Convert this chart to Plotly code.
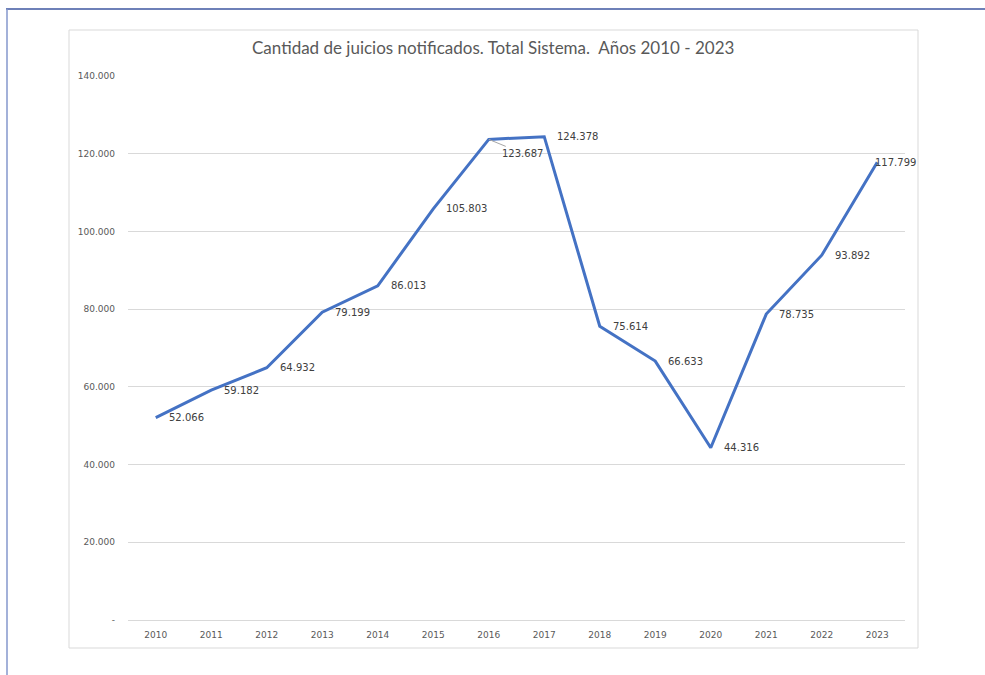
import plotly.graph_objects as go

years = ["2010", "2011", "2012", "2013", "2014", "2015", "2016",
         "2017", "2018", "2019", "2020", "2021", "2022", "2023"]
values = [52066, 59182, 64932, 79199, 86013, 105803, 123687,
          124378, 75614, 66633, 44316, 78735, 93892, 117799]
labels = ["52.066", "59.182", "64.932", "79.199", "86.013", "105.803", "123.687",
          "124.378", "75.614", "66.633", "44.316", "78.735", "93.892", "117.799"]
ytick_vals = [0, 20000, 40000, 60000, 80000, 100000, 120000, 140000]
ytick_text = ["-", "20.000", "40.000", "60.000", "80.000", "100.000", "120.000", "140.000"]
title = "Cantidad de juicios notificados. Total Sistema.  Años 2010 - 2023"

W, H = 985, 675
L, R, T, B = 128, 80, 76, 55
pw, ph = W - L - R, H - T - B

def px(x):
    return (x - L) / pw

def py(y):
    return (H - B - y) / ph

fig = go.Figure()
fig.add_trace(go.Scatter(
    x=years, y=values, mode="lines",
    line=dict(color="#4472C4", width=3),
    hoverinfo="skip", showlegend=False,
))

lab_font = dict(family="DejaVu Sans", size=10, color="#404040")
annotations = []
for i, (yr, v, lab) in enumerate(zip(years, values, labels)):
    if yr == "2016":
        annotations.append(dict(
            x=i, y=v, text=lab, xref="x", yref="y",
            showarrow=True, arrowhead=0, arrowwidth=1, arrowcolor="#A6A6A6",
            ax=34, ay=14, xanchor="center", yanchor="middle",
            font=lab_font,
        ))
    elif yr == "2023":
        annotations.append(dict(
            x=i, y=v, text=lab, xref="x", yref="y", showarrow=False,
            xanchor="left", yanchor="middle", xshift=-4, font=lab_font,
        ))
    else:
        annotations.append(dict(
            x=i, y=v, text=lab, xref="x", yref="y", showarrow=False,
            xanchor="left", yanchor="middle", xshift=11, font=lab_font,
        ))

annotations.append(dict(
    x=px(493), y=py(48), xref="paper", yref="paper", text=title,
    showarrow=False, xanchor="center", yanchor="middle",
    font=dict(family="Lato", size=17, color="#595959"),
))

shapes = [
    dict(type="rect", xref="paper", yref="paper",
         x0=px(69), x1=px(918), y0=py(30), y1=py(648),
         line=dict(color="#D9D9D9", width=1), layer="below"),
    dict(type="line", xref="paper", yref="paper",
         x0=px(6), x1=px(985), y0=py(9), y1=py(9),
         line=dict(color="#3E56A0", width=1.5)),
    dict(type="line", xref="paper", yref="paper",
         x0=px(7), x1=px(7), y0=py(9), y1=py(675),
         line=dict(color="#8497CC", width=1.5)),
]

fig.update_layout(
    width=W, height=H,
    margin=dict(l=L, r=R, t=T, b=B),
    paper_bgcolor="white", plot_bgcolor="white",
    annotations=annotations, shapes=shapes,
    showlegend=False,
)
fig.update_xaxes(
    type="category", range=[-0.5, 13.5],
    showgrid=False, showline=True, linecolor="#D9D9D9", linewidth=1,
    ticks="", ticklabelstandoff=6,
    tickfont=dict(family="DejaVu Sans", size=9, color="#595959"),
)
fig.update_yaxes(
    range=[0, 140000], tickvals=ytick_vals, ticktext=ytick_text,
    showgrid=True, gridcolor="#D9D9D9", gridwidth=1,
    zeroline=False, showline=False, ticks="", ticklabelstandoff=12,
    tickfont=dict(family="DejaVu Sans", size=9, color="#595959"),
)

fig.write_html(
    "out.html",
    config={"displayModeBar": False},
    post_script="document.body.style.margin='0';document.body.style.padding='0';",
)
